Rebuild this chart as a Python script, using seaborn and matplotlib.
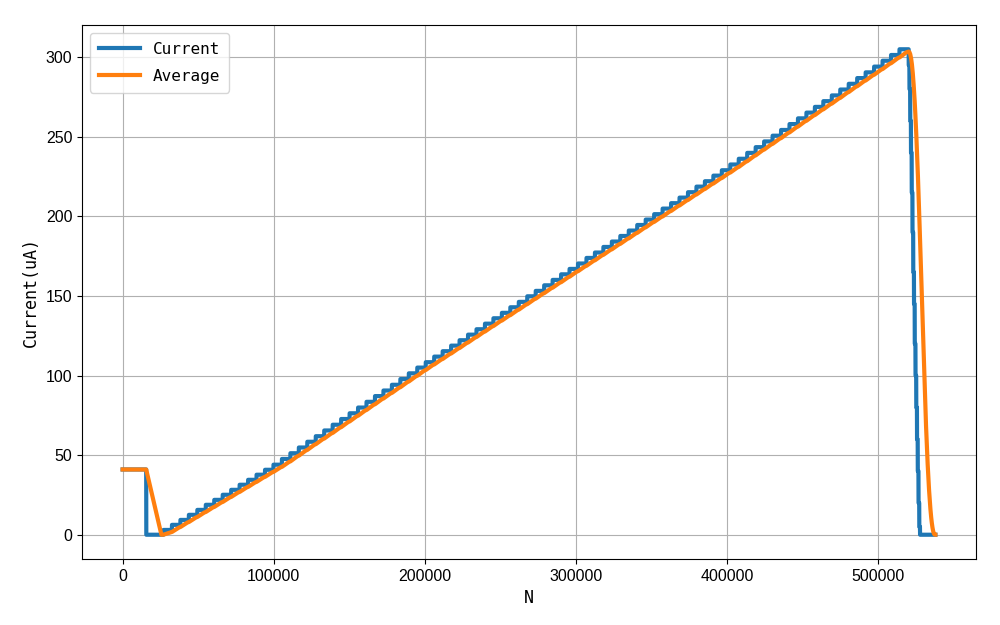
import numpy as np
import pandas as pd
import matplotlib
matplotlib.use("Agg")
import matplotlib.pyplot as plt
import seaborn as sns

# sample spacing of the reconstructed record (N units per sample)
dn = 10

# start section: idle level, then switched off
idle_level = 41.0
idle_end = 15600
off_end = 27000

# staircase levels (uA), one per step
step_levels = [3.0, 6.2, 9.3, 12.5, 15.6, 18.8, 21.9, 25.1, 28.2, 31.4,
               34.5, 37.7, 40.8, 44.0, 47.6, 51.2, 54.8, 58.4, 61.9, 65.5,
               69.1, 72.7, 76.3, 79.9, 83.5, 87.1, 90.6, 94.2, 97.8, 101.4,
               105.0, 108.4, 111.9, 115.3, 118.8, 122.2, 125.7, 129.1, 132.6, 136.0,
               139.4, 142.9, 146.3, 149.8, 153.2, 156.7, 160.1, 163.6, 167.0, 170.4,
               173.9, 177.3, 180.8, 184.2, 187.7, 191.1, 194.6, 198.0, 201.4, 204.9,
               208.3, 211.8, 215.2, 218.7, 222.1, 225.6, 229.0, 232.6, 236.2, 239.9,
               243.5, 247.1, 250.7, 254.3, 258.0, 261.6, 265.2, 268.8, 272.4, 276.0,
               279.7, 283.3, 286.9, 290.5, 294.1, 297.8, 301.4, 305.0]
step_len = 5600

# fall-off at the end (uA), 500 N each, then zero until the end of record
fall_levels = [305, 295, 280, 260, 240, 215, 190, 165, 145, 120,
               100, 80, 60, 40, 20, 5]
fall_len = 500
tail_end = 538000

avg_window = 10000

# build the sampled record
cur = [np.full(idle_end // dn, idle_level),
       np.zeros((off_end - idle_end) // dn),
       np.repeat(step_levels, step_len // dn),
       np.repeat(fall_levels, fall_len // dn)]
cur = np.concatenate(cur)
cur = np.concatenate([cur, np.zeros(tail_end // dn - len(cur))])
n = np.arange(len(cur)) * dn

df = pd.DataFrame({"N": n, "Current": cur})
df["Average"] = df["Current"].rolling(avg_window // dn, min_periods=1).mean()

label_font = "DejaVu Sans Mono"
plt.rcParams["font.family"] = ["Liberation Sans", "DejaVu Sans"]

fig, ax = plt.subplots(figsize=(10, 6.25), dpi=100)
fig.subplots_adjust(left=0.082, right=0.976, top=0.96, bottom=0.1056)

sns.lineplot(data=df, x="N", y="Current", ax=ax, color="#1f77b4", linewidth=3,
             label="Current", estimator=None)
sns.lineplot(data=df, x="N", y="Average", ax=ax, color="#ff7f0e", linewidth=3,
             label="Average", estimator=None)

ax.grid(True, color="#b0b0b0", linewidth=0.8)
ax.set_axisbelow(True)
ax.tick_params(labelsize=11.5)
ax.set_xlabel("N", fontsize=12, family=label_font)
ax.set_ylabel("Current(uA)", fontsize=12, family=label_font)
leg = ax.legend(loc="upper left", prop={"family": label_font, "size": 11.5},
                handlelength=2.6, labelspacing=0.75, borderpad=0.55)

fig.savefig("out.png", dpi=100)
